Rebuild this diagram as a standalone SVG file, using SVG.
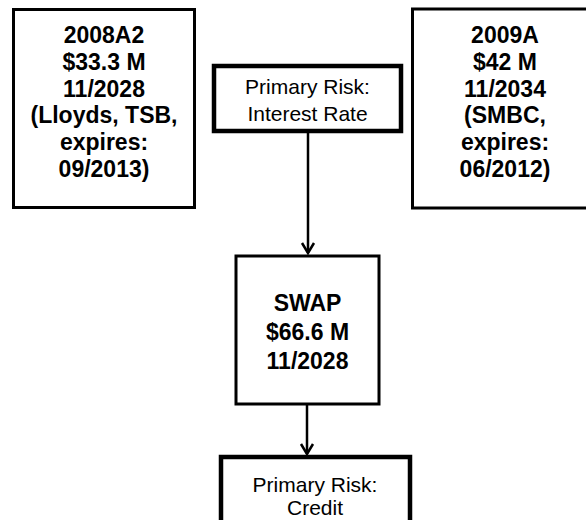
<svg xmlns="http://www.w3.org/2000/svg" width="586" height="520" viewBox="0 0 586 520">
<style>
.box{fill:#fff;stroke:#000}
.b{font-family:"Liberation Sans",Arial,sans-serif;font-weight:bold;font-size:23px;text-anchor:middle;fill:#000}
.r{font-family:"Liberation Sans",Arial,sans-serif;font-size:21px;text-anchor:middle;fill:#000}
.c{fill:none;stroke:#000;stroke-width:2.5}
</style>
<rect width="586" height="520" fill="#fff"/>
<g id="n2008A2">
<rect class="box" x="13.5" y="9.5" width="181" height="198" stroke-width="3"/>
<text class="b" x="104" y="43">2008A2</text>
<text class="b" x="104" y="70">$33.3 M</text>
<text class="b" x="104" y="96.5">11/2028</text>
<text class="b" x="104" y="123">(Lloyds, TSB,</text>
<text class="b" x="104" y="150">expires:</text>
<text class="b" x="104" y="176.5">09/2013)</text>
</g>
<g id="nRiskRate">
<rect class="box" x="214" y="66" width="187" height="65" stroke-width="4.5"/>
<text class="r" x="307.5" y="94">Primary Risk:</text>
<text class="r" x="307.5" y="121">Interest Rate</text>
</g>
<g id="n2009A">
<rect class="box" x="412.5" y="9" width="190" height="199" stroke-width="3"/>
<text class="b" x="505" y="43">2009A</text>
<text class="b" x="505" y="70">$42 M</text>
<text class="b" x="505" y="96.5">11/2034</text>
<text class="b" x="505" y="123">(SMBC,</text>
<text class="b" x="505" y="150">expires:</text>
<text class="b" x="505" y="176.5">06/2012)</text>
</g>
<g id="nSwap">
<rect class="box" x="236" y="256" width="143" height="148" stroke-width="3"/>
<text class="b" x="307.5" y="311">SWAP</text>
<text class="b" x="307.5" y="340">$66.6 M</text>
<text class="b" x="307.5" y="369">11/2028</text>
</g>
<g id="nRiskCredit">
<rect class="box" x="221" y="457" width="189" height="80" stroke-width="4.5"/>
<text class="r" x="315" y="492">Primary Risk:</text>
<text class="r" x="315" y="515">Credit</text>
</g>
<g id="connectors">
<line class="c" x1="308" y1="133" x2="308" y2="253"/>
<polyline class="c" points="302,243 308,253 314,243" stroke-width="3"/>
<line class="c" x1="307" y1="405" x2="307" y2="454"/>
<polyline class="c" points="301,444 307,454 313,444" stroke-width="3"/>
</g>
</svg>
